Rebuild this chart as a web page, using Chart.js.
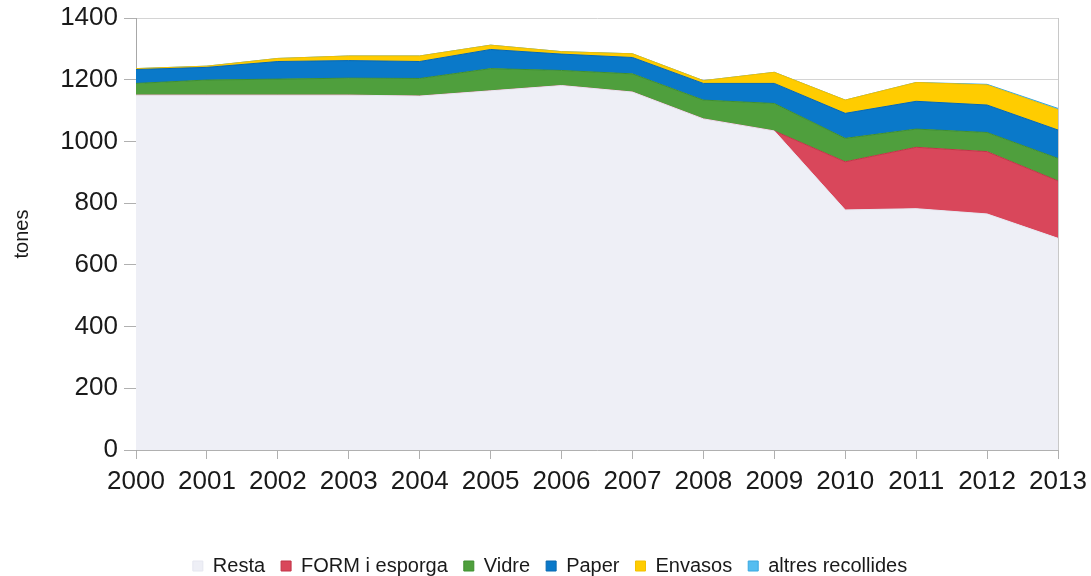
<!DOCTYPE html>
<html>
<head>
<meta charset="utf-8">
<script src="https://cdn.jsdelivr.net/npm/chart.js@4/dist/chart.umd.min.js"></script>
<style>
  html, body { margin: 0; padding: 0; background: #ffffff; }
  #wrap { width: 1091px; height: 576px; position: relative; }
</style>
</head>
<body>
<div id="wrap"><canvas id="c" width="1091" height="576"></canvas></div>
<script>
const years = ['2000','2001','2002','2003','2004','2005','2006','2007','2008','2009','2010','2011','2012','2013'];
const resta   = [1150,1150,1150,1150,1147,1164,1181,1160,1073,1034,778,782,765,686];
const form    = [0,0,0,0,0,0,0,0,0,0,156,199,202,186];
const vidre   = [38,49,52,55,57,72,49,59,61,89,76,59,62,73];
const paper   = [45,41,57,57,55,62,53,53,54,65,81,90,89,92];
const envasos = [3,4,10,15,18,14,8,12,9,36,43,61,65,66];
const altres  = [0,0,0,0,0,0,0,0,0,0,0,0,2,4];
const seriesNames = ['Resta','FORM i esporga','Vidre','Paper','Envasos','altres recollides'];
const yTicks = [0,200,400,600,800,1000,1200,1400];
const yTickLabels = ['0','200','400','600','800','1000','1200','1400'];

const fills   = ['#eeeff6','#d9475b','#4f9f3d','#0a79c9','#ffcc00','#55bdf0'];
const borders = ['#e6e7f0','#c23448','#3f8f30','#0868b0','#f2c000','#3aa8e0'];
const values  = [resta, form, vidre, paper, envasos, altres];

const FONT = "'Liberation Sans', Arial, sans-serif";

const legendShift = {
  id: 'legendShift',
  afterLayout(chart) {
    const l = chart.legend;
    if (l) { l.top += 10; l.bottom += 10; l.left += 21; l.right += 21; }
  }
};

new Chart(document.getElementById('c'), {
  type: 'line',
  data: {
    labels: years,
    datasets: values.map((v, i) => ({
      label: seriesNames[i],
      data: v,
      backgroundColor: fills[i],
      borderColor: borders[i],
      borderWidth: 1,
      fill: i === 0 ? 'origin' : '-1',
      pointRadius: 0,
      pointHoverRadius: 0,
      tension: 0
    }))
  },
  options: {
    responsive: false,
    animation: false,
    devicePixelRatio: 1,
    layout: { padding: { left: 0, right: 33, top: 18, bottom: 0 } },
    plugins: {
      tooltip: { enabled: false },
      legend: {
        position: 'bottom',
        labels: {
          font: { family: FONT, size: 20 },
          color: '#1a1a1a',
          boxWidth: 10,
          boxHeight: 10,
          padding: 16
        }
      }
    },
    scales: {
      x: {
        type: 'category',
        offset: false,
        grid: {
          drawOnChartArea: true,
          color: ctx => (ctx.index === years.length - 1 ? '#c8c8c8' : 'rgba(0,0,0,0)'),
          tickColor: '#b0b0b0',
          tickLength: 9
        },
        border: { display: true, color: '#b0b0b0' },
        ticks: {
          font: { family: FONT, size: 26 },
          color: '#1a1a1a',
          padding: 7,
          maxRotation: 0,
          autoSkip: false
        },
        afterFit(scale) {
          scale.height = 80;
          scale.paddingLeft = 0; scale.paddingRight = 0;
        }
      },
      y: {
        stacked: true,
        min: 0,
        max: 1400,
        afterBuildTicks(scale) { scale.ticks = yTicks.map(v => ({ value: v })); },
        grid: {
          color: '#d4d4d4',
          tickColor: '#b0b0b0',
          tickLength: 12
        },
        border: { display: true, color: '#a8a8a8' },
        ticks: {
          font: { family: FONT, size: 26 },
          color: '#1a1a1a',
          padding: 6,
          callback: (v, i) => yTickLabels[i]
        },
        title: {
          display: true,
          text: 'tones',
          font: { family: FONT, size: 20 },
          color: '#1a1a1a',
          padding: { top: 10, bottom: 0 }
        },
        afterFit(scale) {
          scale.width = 136;
          scale.paddingTop = 0; scale.paddingBottom = 0;
        }
      }
    }
  },
  plugins: [legendShift]
});
</script>
</body>
</html>
